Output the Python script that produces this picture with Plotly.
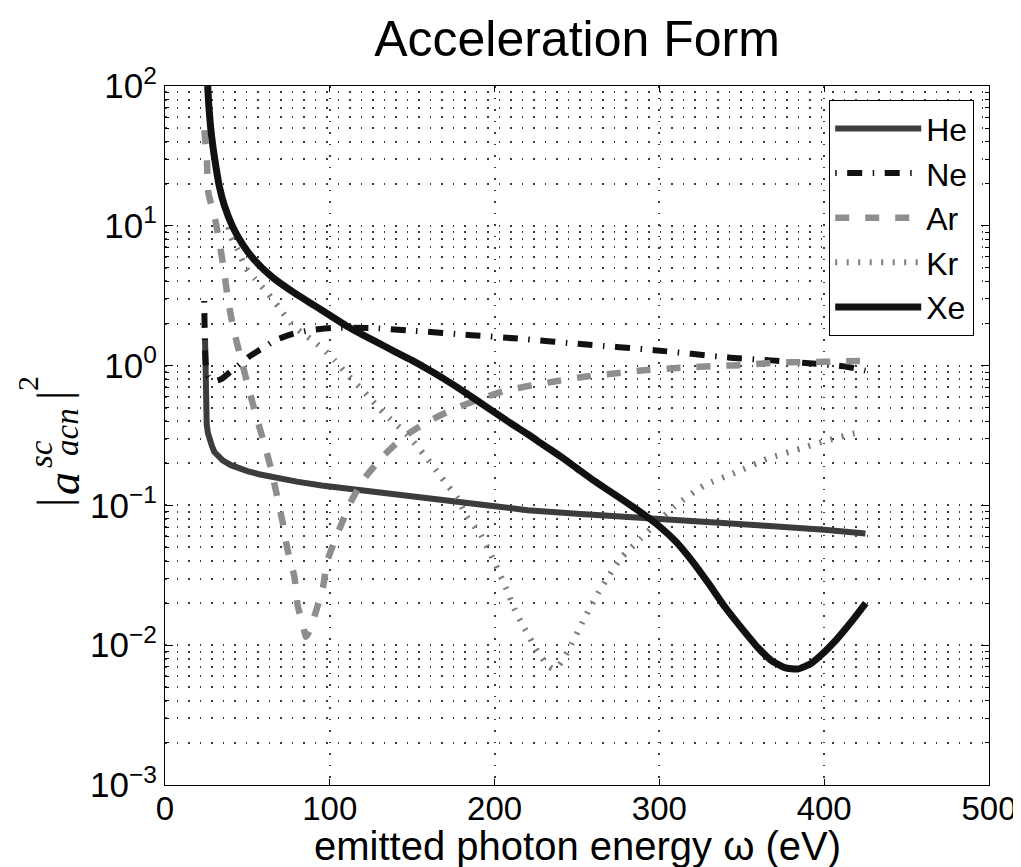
import plotly.graph_objects as go

# ---- data ----
he_x = [24.3, 24.5, 24.8, 25.3, 26.0, 27.0, 28.5, 30, 32, 35, 40, 45, 50, 57, 64, 72, 80, 95, 115, 135, 159, 190, 220, 250, 281, 320, 360, 400, 425]
he_y = [1.56, 0.9, 0.5, 0.38, 0.33, 0.295, 0.265, 0.241, 0.225, 0.21, 0.194, 0.184, 0.176, 0.167, 0.160, 0.154, 0.148, 0.139, 0.130, 0.1216, 0.112, 0.101, 0.0924, 0.087, 0.0829, 0.077, 0.072, 0.067, 0.063]

ne_x = [23.8, 24.0, 24.3, 25, 26.5, 29, 31, 34, 38, 42, 51, 60, 67, 77, 88, 101, 124, 147, 186, 214, 254, 297, 343, 368, 395, 408, 416, 425]
ne_y = [2.9, 2.0, 1.3, 0.95, 0.83, 0.78, 0.78, 0.80, 0.87, 0.95, 1.16, 1.35, 1.52, 1.68, 1.79, 1.86, 1.86, 1.79, 1.65, 1.56, 1.42, 1.29, 1.14, 1.09, 1.03, 1.0, 0.97, 0.92]

ar_x = [23.9, 25.5, 26.3, 30.3, 33.4, 36.0, 38.5, 41.7, 46.1, 50.8, 55.2, 59.9, 64.3, 67.9, 71.4, 74.4, 78.5, 80.5, 84.0, 85.5, 87.5, 90.6, 95.7, 98.7, 106.4, 112.8, 121, 132.1, 145, 159.4, 174.5, 190, 205.9, 223, 237.2, 254.4, 272.6, 290.8, 313, 336.3, 351.5, 369.7, 390, 408, 425]
ar_y = [48.3, 28.1, 17.3, 11.3, 7.19, 4.58, 2.83, 1.80, 1.12, 0.686, 0.441, 0.285, 0.184, 0.118, 0.0755, 0.0479, 0.0309, 0.0193, 0.0135, 0.0115, 0.0125, 0.016, 0.0255, 0.0406, 0.0703, 0.106, 0.156, 0.223, 0.31, 0.396, 0.485, 0.57, 0.658, 0.724, 0.773, 0.831, 0.878, 0.927, 0.964, 0.997, 1.01, 1.05, 1.06, 1.07, 1.08]

kr_x = [38.5, 40.0, 44.1, 49.1, 54.2, 62.3, 69.4, 76.4, 83, 90.6, 97.7, 102.8, 111.9, 118.9, 124.6, 130.1, 133.1, 147.2, 157.4, 165, 171.5, 177.7, 182.6, 191.7, 199.8, 207.9, 211.9, 216, 226.1, 232.1, 235.2, 239, 244.3, 254.4, 264.5, 276.6, 288.7, 309, 327.2, 347.4, 365.6, 385.8, 402, 418.2, 421.4]
kr_y = [9.8, 8.37, 6.73, 4.98, 4.22, 3.30, 2.58, 2.01, 1.72, 1.48, 1.255, 1.093, 0.832, 0.686, 0.582, 0.493, 0.454, 0.318, 0.229, 0.175, 0.139, 0.112, 0.0851, 0.0612, 0.0395, 0.0241, 0.0183, 0.0147, 0.0090, 0.0072, 0.0068, 0.0072, 0.0090, 0.0155, 0.0255, 0.0417, 0.058, 0.098, 0.139, 0.174, 0.216, 0.255, 0.292, 0.327, 0.33]

xe_x = [25.9, 26.5, 27.3, 28.3, 30, 33, 36, 41, 47, 54, 65, 78.5, 92, 100, 110, 120, 130, 140, 150, 160, 170, 180, 190, 200, 210, 220, 230, 240, 250, 260, 270, 280, 290, 300, 310, 320, 330, 340, 350, 360, 368, 376, 384, 392, 400, 406, 412, 418, 425.2]
xe_y = [100, 75, 57, 43.5, 31, 19.1, 14, 9.9, 7.4, 5.74, 4.3, 3.31, 2.63, 2.29, 1.93, 1.66, 1.44, 1.25, 1.09, 0.933, 0.794, 0.668, 0.556, 0.462, 0.385, 0.324, 0.269, 0.224, 0.184, 0.151, 0.126, 0.105, 0.0871, 0.0708, 0.0550, 0.0398, 0.0275, 0.0186, 0.0132, 0.00955, 0.00776, 0.00692, 0.00676, 0.00741, 0.00891, 0.0105, 0.0127, 0.0155, 0.0200]

names = ["He", "Ne", "Ar", "Kr", "Xe"]
x_ticks = [0, 100, 200, 300, 400, 500]
y_ticks = [1e-3, 1e-2, 1e-1, 1e0, 1e1, 1e2]
y_tick_text = ["10<sup>−3</sup>", "10<sup>−2</sup>", "10<sup>−1</sup>",
               "10<sup>0</sup>", "10<sup>1</sup>", "10<sup>2</sup>"]

series = [
    (names[0], he_x, he_y, "#3c3c3c", 6, "solid", "linear"),
    (names[1], ne_x, ne_y, "#111111", 6, "1.5px,10.5px,15px,10.5px", "spline"),
    (names[2], ar_x, ar_y, "#8e8e8e", 6.5, "14px,16px", "spline"),
    (names[3], kr_x, kr_y, "#7c7c7c", 6, "2px,9.5px", "spline"),
    (names[4], xe_x, xe_y, "#111111", 7, "solid", "spline"),
]

fig = go.Figure()
for name, xs, ys, col, w, dash, shp in series:
    fig.add_trace(go.Scatter(x=xs, y=ys, mode="lines", name=name,
                             line=dict(color=col, width=w, dash=dash, shape=shp,
                                       smoothing=0.6 if shp == "spline" else None)))

L, R, T, B = 157, 40, 78, 90
W, H = 1021, 867
pw, ph = W - L - R, H - T - B

font_family = "Liberation Sans, Arial, Helvetica, sans-serif"
grid_col = "#3a3a3a"
gdash = "1.5px,10px"

fig.update_layout(
    width=W, height=H,
    margin=dict(l=L, r=R, t=T, b=B),
    paper_bgcolor="white", plot_bgcolor="white",
    font=dict(family=font_family, color="black", size=32),
    title=dict(text="Acceleration Form", x=0.5, xref="paper", xanchor="center",
               y=1 - 30 / H, yref="container", yanchor="middle",
               font=dict(size=50, family=font_family, color="black")),
    showlegend=True,
    legend=dict(x=(821 - L) / pw, y=1 - (92 - T) / ph, xanchor="left", yanchor="top",
                bgcolor="white", bordercolor="black", borderwidth=1.2,
                font=dict(size=32, family=font_family), itemwidth=86,
                entrywidth=150, entrywidthmode="pixels",
                tracegroupgap=0),
)

fig.update_xaxes(
    range=[0, 500], tickvals=x_ticks, ticktext=[str(v) for v in x_ticks],
    ticks="inside", ticklen=6, tickcolor="black", mirror="ticks",
    showline=True, linecolor="black", linewidth=1.2,
    showgrid=True, gridcolor=grid_col, gridwidth=1.5, griddash=gdash,
    zeroline=False, tickfont=dict(size=33), ticklabelstandoff=-6,
)
fig.update_yaxes(
    type="log", range=[-3, 2], tickvals=y_ticks, ticktext=y_tick_text,
    ticks="inside", ticklen=8, tickcolor="black", mirror="ticks",
    showline=True, linecolor="black", linewidth=1.2,
    showgrid=True, gridcolor=grid_col, gridwidth=1.5, griddash=gdash,
    zeroline=False, tickfont=dict(size=35),
    minor=dict(dtick="D1", ticks="inside", ticklen=4, tickcolor="black",
               showgrid=True, gridcolor=grid_col, gridwidth=1.5, griddash=gdash),
)

def px2x(px):
    return (px - L) / pw

def py2y(py):
    return (H - B - py) / ph

# x-axis title
fig.add_annotation(text="emitted photon energy ω (eV)", x=0.5, y=py2y(838),
                   xref="paper", yref="paper", showarrow=False,
                   xanchor="center", yanchor="middle",
                   font=dict(size=40, family=font_family, color="black"))

# y-axis label |a^{sc}_{acn}|^2 composed of rotated pieces
serif = "Liberation Serif, DejaVu Serif, Times New Roman, serif"
pieces = [
    ("|", 45, 495, 46),
    ("<i>a</i>", 55, 476, 46),
    ("<i>sc</i>", 33, 446, 33),
    ("<i>acn</i>", 59, 424, 33),
    ("|", 45, 388, 46),
    ("2", 19, 376, 30),
]
for txt, px, py, fs in pieces:
    fig.add_annotation(text=txt, x=px2x(px), y=py2y(py), xref="paper", yref="paper",
                       showarrow=False, textangle=-90, xanchor="center", yanchor="middle",
                       font=dict(size=fs, family=serif, color="black"))

fig.write_html("out.html")
